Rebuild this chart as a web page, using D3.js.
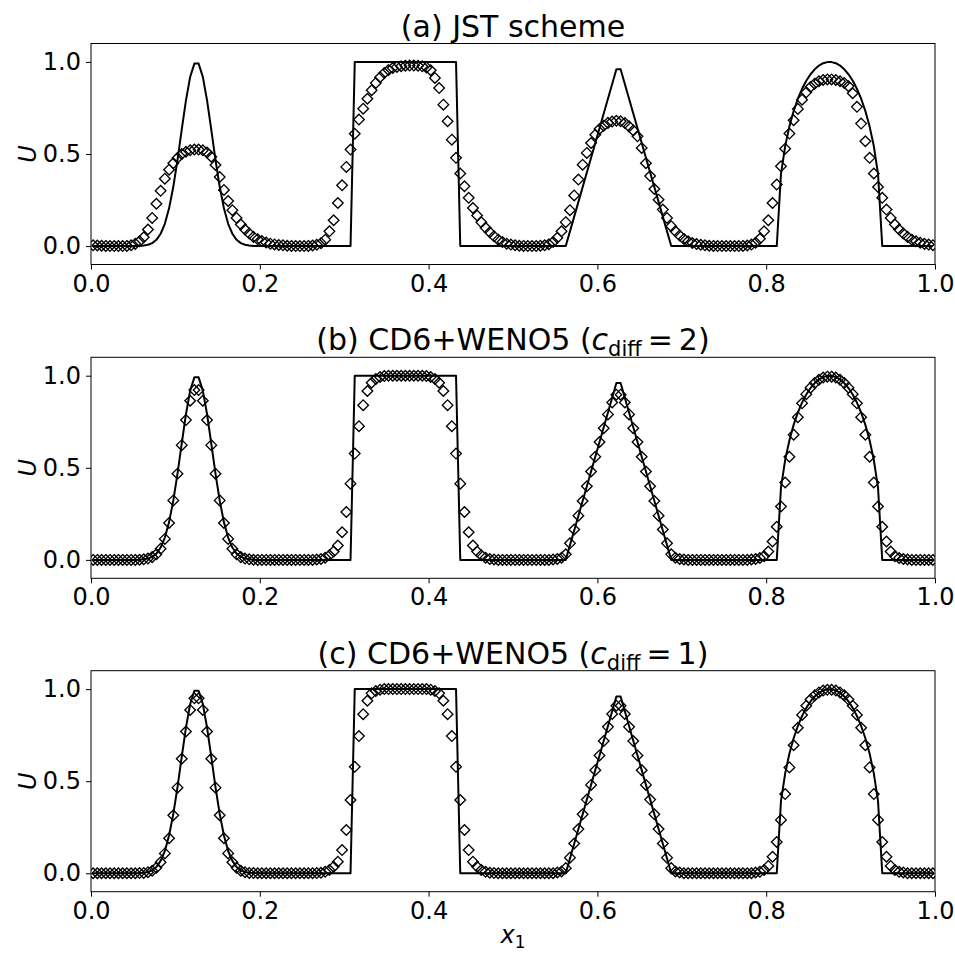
<!DOCTYPE html>
<html><head><meta charset="utf-8">
<script src="https://cdn.jsdelivr.net/npm/d3@7"></script>
<style>body{margin:0;background:#fff} text{font-family:"DejaVu Sans",sans-serif}</style>
</head><body><svg id="c" width="955" height="953" xmlns="http://www.w3.org/2000/svg"></svg>
<script>
// grid points (cell centres)
const xGrid = [
0.0025,0.0075,0.0125,0.0175,0.0225,0.0275,0.0325,0.0375,0.0425,0.0475,
0.0525,0.0575,0.0625,0.0675,0.0725,0.0775,0.0825,0.0875,0.0925,0.0975,
0.1025,0.1075,0.1125,0.1175,0.1225,0.1275,0.1325,0.1375,0.1425,0.1475,
0.1525,0.1575,0.1625,0.1675,0.1725,0.1775,0.1825,0.1875,0.1925,0.1975,
0.2025,0.2075,0.2125,0.2175,0.2225,0.2275,0.2325,0.2375,0.2425,0.2475,
0.2525,0.2575,0.2625,0.2675,0.2725,0.2775,0.2825,0.2875,0.2925,0.2975,
0.3025,0.3075,0.3125,0.3175,0.3225,0.3275,0.3325,0.3375,0.3425,0.3475,
0.3525,0.3575,0.3625,0.3675,0.3725,0.3775,0.3825,0.3875,0.3925,0.3975,
0.4025,0.4075,0.4125,0.4175,0.4225,0.4275,0.4325,0.4375,0.4425,0.4475,
0.4525,0.4575,0.4625,0.4675,0.4725,0.4775,0.4825,0.4875,0.4925,0.4975,
0.5025,0.5075,0.5125,0.5175,0.5225,0.5275,0.5325,0.5375,0.5425,0.5475,
0.5525,0.5575,0.5625,0.5675,0.5725,0.5775,0.5825,0.5875,0.5925,0.5975,
0.6025,0.6075,0.6125,0.6175,0.6225,0.6275,0.6325,0.6375,0.6425,0.6475,
0.6525,0.6575,0.6625,0.6675,0.6725,0.6775,0.6825,0.6875,0.6925,0.6975,
0.7025,0.7075,0.7125,0.7175,0.7225,0.7275,0.7325,0.7375,0.7425,0.7475,
0.7525,0.7575,0.7625,0.7675,0.7725,0.7775,0.7825,0.7875,0.7925,0.7975,
0.8025,0.8075,0.8125,0.8175,0.8225,0.8275,0.8325,0.8375,0.8425,0.8475,
0.8525,0.8575,0.8625,0.8675,0.8725,0.8775,0.8825,0.8875,0.8925,0.8975,
0.9025,0.9075,0.9125,0.9175,0.9225,0.9275,0.9325,0.9375,0.9425,0.9475,
0.9525,0.9575,0.9625,0.9675,0.9725,0.9775,0.9825,0.9875,0.9925,0.9975];

// exact solution (solid line)
const exact = [
0,0,0,0,0,0,0,0,0,0,
0,0.001,0.003,0.007,0.016,0.034,0.067,0.121,0.205,0.322,
0.468,0.632,0.791,0.919,0.991,0.991,0.919,0.791,0.632,0.468,
0.322,0.205,0.121,0.067,0.034,0.016,0.007,0.003,0.001,0,
0,0,0,0,0,0,0,0,0,0,
0,0,0,0,0,0,0,0,0,0,
0,0,1,1,1,1,1,1,1,1,
1,1,1,1,1,1,1,1,1,1,
1,1,1,1,1,1,1,0,0,0,
0,0,0,0,0,0,0,0,0,0,
0,0,0,0,0,0,0,0,0,0,
0,0,0,0.08,0.16,0.24,0.32,0.40,0.48,0.56,
0.64,0.72,0.80,0.88,0.96,0.96,0.88,0.80,0.72,0.64,
0.56,0.48,0.40,0.32,0.24,0.16,0.08,0,0,0,
0,0,0,0,0,0,0,0,0,0,
0,0,0,0,0,0,0,0,0,0,
0,0,0,0.392,0.543,0.650,0.733,0.800,0.854,0.898,
0.933,0.960,0.980,0.993,0.999,0.999,0.993,0.980,0.960,0.933,
0.898,0.854,0.800,0.733,0.650,0.543,0.392,0,0,0,
0,0,0,0,0,0,0,0,0,0];

// (a) JST scheme
const jst = [
0.004,0.003,0.002,0.001,0,0,0,0,0.001,0.004,
0.012,0.026,0.048,0.09,0.153,0.23,0.30,0.366,0.415,0.45,
0.478,0.50,0.512,0.52,0.524,0.524,0.52,0.508,0.485,0.44,
0.375,0.305,0.245,0.195,0.153,0.117,0.09,0.068,0.05,0.037,
0.027,0.019,0.013,0.009,0.006,0.004,0.002,0.001,0,0,
0,0.001,0.003,0.007,0.016,0.035,0.08,0.14,0.234,0.33,
0.43,0.524,0.61,0.687,0.746,0.80,0.846,0.886,0.917,0.94,
0.956,0.967,0.973,0.977,0.979,0.98,0.98,0.979,0.976,0.97,
0.955,0.913,0.858,0.768,0.678,0.578,0.479,0.394,0.325,0.262,
0.207,0.166,0.129,0.099,0.075,0.053,0.035,0.022,0.013,0.008,
0.004,0.002,0.001,0,0,0,0.002,0.004,0.01,0.022,
0.045,0.08,0.13,0.195,0.275,0.361,0.442,0.506,0.56,0.605,
0.636,0.654,0.669,0.676,0.68,0.678,0.668,0.65,0.628,0.596,
0.533,0.45,0.38,0.31,0.252,0.198,0.153,0.108,0.08,0.057,
0.039,0.026,0.017,0.011,0.007,0.004,0.002,0.001,0,0,
0,0,0,0,0.001,0.003,0.008,0.018,0.04,0.08,
0.14,0.234,0.334,0.433,0.529,0.611,0.683,0.745,0.795,0.835,
0.864,0.882,0.895,0.902,0.905,0.905,0.902,0.895,0.886,0.868,
0.83,0.756,0.665,0.569,0.479,0.394,0.321,0.262,0.198,0.153,
0.117,0.09,0.068,0.05,0.035,0.026,0.018,0.012,0.008,0.005];

// (b) CD6+WENO5, c_diff = 2
const cd6c2 = [
0,0,0,0,0,0,0,0,0,0,
0,0.001,0.003,0.007,0.015,0.03,0.06,0.114,0.20,0.323,
0.468,0.623,0.759,0.864,0.922,0.922,0.864,0.759,0.623,0.468,
0.323,0.20,0.114,0.06,0.03,0.015,0.007,0.003,0.001,0,
0,0,0,0,0,0,0,0,0,0,
0,0,0,0.002,0.005,0.012,0.025,0.045,0.078,0.15,
0.26,0.414,0.577,0.726,0.84,0.917,0.962,0.982,0.993,0.998,
1,1,1,1,1,1,1,1,1,0.998,
0.993,0.982,0.962,0.917,0.84,0.726,0.577,0.414,0.26,0.15,
0.078,0.045,0.025,0.012,0.005,0.002,0,0,0,0,
0,0,0,0,0,0,0,0,0,0.002,
0.005,0.012,0.03,0.09,0.165,0.24,0.32,0.40,0.48,0.56,
0.64,0.715,0.79,0.855,0.897,0.897,0.855,0.79,0.715,0.64,
0.56,0.48,0.40,0.32,0.24,0.165,0.09,0.03,0.012,0.005,
0.002,0,0,0,0,0,0,0,0,0,
0,0,0,0,0,0,0.002,0.005,0.01,0.02,
0.045,0.10,0.18,0.29,0.42,0.56,0.68,0.775,0.85,0.90,
0.935,0.96,0.978,0.99,0.995,0.995,0.99,0.978,0.96,0.935,
0.90,0.85,0.775,0.68,0.56,0.42,0.29,0.18,0.10,0.045,
0.02,0.01,0.005,0.002,0,0,0,0,0,0];

// (c) CD6+WENO5, c_diff = 1
const cd6c1 = [
0,0,0,0,0,0,0,0,0,0,
0,0.001,0.002,0.006,0.014,0.03,0.06,0.108,0.19,0.315,
0.465,0.622,0.77,0.887,0.95,0.95,0.887,0.77,0.622,0.465,
0.315,0.19,0.108,0.06,0.03,0.014,0.006,0.002,0.001,0,
0,0,0,0,0,0,0,0,0,0,
0,0,0,0.001,0.003,0.008,0.018,0.036,0.063,0.126,
0.235,0.398,0.578,0.745,0.864,0.937,0.977,0.99,0.997,1,
1,1,1,1,1,1,1,1,1,1,
0.997,0.99,0.977,0.937,0.864,0.745,0.578,0.398,0.235,0.126,
0.063,0.036,0.018,0.008,0.003,0.001,0,0,0,0,
0,0,0,0,0,0,0,0,0,0,
0.004,0.01,0.028,0.085,0.162,0.24,0.32,0.40,0.48,0.56,
0.64,0.718,0.795,0.865,0.91,0.91,0.865,0.795,0.718,0.64,
0.56,0.48,0.40,0.32,0.24,0.162,0.085,0.028,0.01,0.004,
0,0,0,0,0,0,0,0,0,0,
0,0,0,0,0,0,0,0.004,0.008,0.018,
0.04,0.09,0.17,0.29,0.43,0.575,0.695,0.79,0.86,0.91,
0.943,0.966,0.982,0.992,0.996,0.996,0.992,0.982,0.966,0.943,
0.91,0.86,0.79,0.695,0.575,0.43,0.29,0.17,0.09,0.04,
0.018,0.008,0.004,0,0,0,0,0,0,0];

const xTicks = [0.0, 0.2, 0.4, 0.6, 0.8, 1.0];
const yTicks = [0.0, 0.5, 1.0];
const panelTitles = [
  [["(a) JST scheme", ""]],
  [["(b) CD6+WENO5 (", ""], ["c", "it"], ["diff", "sub"], ["\u2009=\u20092)", "up"]],
  [["(c) CD6+WENO5 (", ""], ["c", "it"], ["diff", "sub"], ["\u2009=\u20091)", "up"]]
];
const panelData = [jst, cd6c2, cd6c1];

const svg = d3.select("#c");
const L = 91, R = 935, H = 221;
const tops = [43.5, 357.3, 670.7];
const TICKFS = 24, TITLEFS = 30;
const x = d3.scaleLinear().domain([0, 1]).range([L, R]);

panelData.forEach((vals, k) => {
  const top = tops[k];
  const y = d3.scaleLinear().domain([-0.1, 1.1]).range([top + H, top]);
  const g = svg.append("g");
  const cid = "clip" + k;
  g.append("clipPath").attr("id", cid).append("rect")
    .attr("x", L).attr("y", top).attr("width", R - L).attr("height", H);
  const plot = g.append("g").attr("clip-path", `url(#${cid})`);

  const line = d3.line().x((d, i) => x(xGrid[i])).y(d => y(d));
  plot.append("path").datum(exact).attr("d", line)
    .attr("fill", "none").attr("stroke", "#000").attr("stroke-width", 2).attr("stroke-linejoin", "round");

  const r = 5.3;
  plot.selectAll("path.mk").data(vals).join("path").attr("class", "mk")
    .attr("d", `M0,${-r}L${r},0L0,${r}L${-r},0Z`)
    .attr("transform", (d, i) => `translate(${x(xGrid[i])},${y(d)})`)
    .attr("fill", "none").attr("stroke", "#000").attr("stroke-width", 1.35);

  // axes
  const ax = g.append("g").attr("transform", `translate(0,${top + H})`)
    .call(d3.axisBottom(x).tickValues(xTicks).tickFormat(d3.format(".1f")).tickSize(5).tickPadding(5));
  const ay = g.append("g").attr("transform", `translate(${L},0)`)
    .call(d3.axisLeft(y).tickValues(yTicks).tickFormat(d3.format(".1f")).tickSize(5).tickPadding(5));
  [ax, ay].forEach(a => {
    a.select(".domain").remove();
    a.selectAll("line").attr("stroke", "#000").attr("stroke-width", 1);
    a.selectAll("text").attr("font-size", TICKFS).attr("fill", "#000")
      .attr("font-family", "DejaVu Sans");
  });

  g.append("rect").attr("x", L).attr("y", top).attr("width", R - L).attr("height", H)
    .attr("fill", "none").attr("stroke", "#000").attr("stroke-width", 1);

  // title
  const t = g.append("text").attr("x", (L + R) / 2).attr("y", top - 7)
    .attr("text-anchor", "middle").attr("font-size", TITLEFS).attr("fill", "#000");
  panelTitles[k].forEach(([s, st]) => {
    const ts = t.append("tspan").text(s);
    if (st === "it") ts.attr("font-style", "italic");
    if (st === "sub") ts.attr("font-size", TITLEFS * 0.7).attr("dy", 6);
    if (st === "up") ts.attr("dy", -6);
  });

  // y label
  g.append("text").attr("transform", `translate(36,${top + H / 2}) rotate(-90)`)
    .attr("text-anchor", "middle").attr("font-size", TICKFS).attr("font-style", "italic")
    .attr("fill", "#000").text("U");
});

// x label
const xl = svg.append("text").attr("x", (L + R) / 2).attr("y", 943)
  .attr("text-anchor", "middle").attr("font-size", TICKFS).attr("fill", "#000");
xl.append("tspan").attr("font-style", "italic").text("x");
xl.append("tspan").attr("font-size", TICKFS * 0.7).attr("dy", 5).text("1");
</script></body></html>
